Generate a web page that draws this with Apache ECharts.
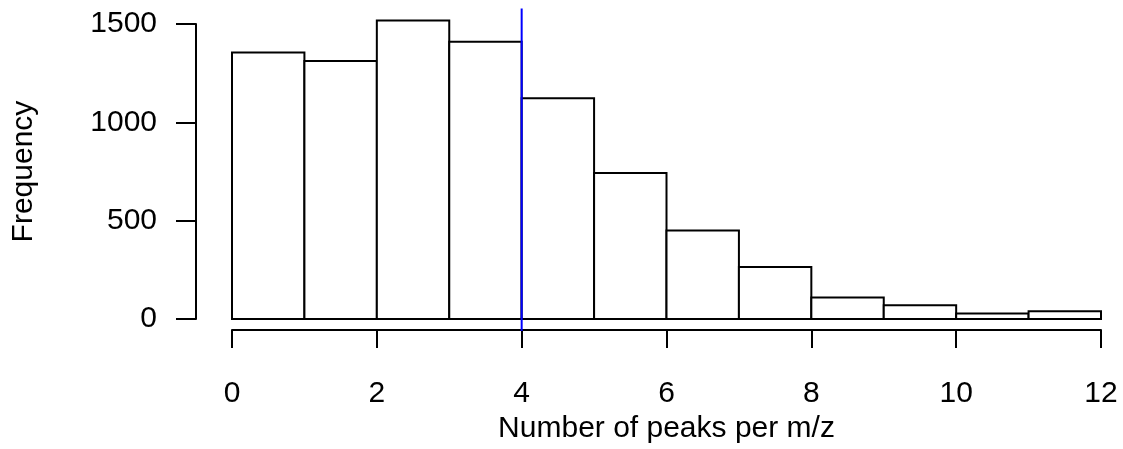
<!DOCTYPE html>
<html>
<head>
<meta charset="utf-8">
<script src="https://cdn.jsdelivr.net/npm/echarts@6/dist/echarts.min.js"></script>
<style>
html,body{margin:0;padding:0;background:#fff;}
#chart{width:1123px;height:449px;}
</style>
</head>
<body>
<div id="chart"></div>
<script>
// Histogram bin edges and counts
var binStarts = [0,1,2,3,4,5,6,7,8,9,10,11];
var binEnds   = [1,2,3,4,5,6,7,8,9,10,11,12];
var counts    = [1355,1312,1518,1410,1122,742,450,265,110,70,28,40];
// Reference line (abline v = 4)
var refLineX  = [4];
var xTicks    = [0,2,4,6,8,10,12];
var yTicks    = [0,500,1000,1500];

var FONT = '"Liberation Sans", Arial, Helvetica, sans-serif';
var chart = echarts.init(document.getElementById('chart'), null, {renderer:'canvas'});

var histData = binStarts.map(function(s,i){ return [s, binEnds[i], counts[i]]; });
var yMaxData = Math.max.apply(null, counts);
var yPad = yMaxData * 0.04;
var LW = 2;

var option = {
  backgroundColor: '#ffffff',
  animation: false,
  grid: {left: 232, right: 22, top: 24, bottom: 126, containLabel: false},
  xAxis: {
    type: 'value', min: xTicks[0], max: xTicks[xTicks.length-1], interval: 2,
    offset: 11,
    axisLine: {show: true, onZero: false, lineStyle: {color: '#000', width: LW}},
    axisTick: {show: true, length: 18, lineStyle: {color: '#000', width: LW}},
    axisLabel: {margin: 49, fontSize: 30, color: '#000', fontFamily: FONT, showMinLabel: true, showMaxLabel: true,
                formatter: function(v){ return String(v); }},
    splitLine: {show: false},
    name: 'Number of peaks per m/z', nameLocation: 'middle', nameGap: 66,
    nameTextStyle: {fontSize: 30, color: '#000', fontFamily: FONT}
  },
  yAxis: {
    type: 'value', min: yTicks[0], max: yTicks[yTicks.length-1], interval: 500,
    offset: 36,
    axisLine: {show: true, onZero: false, lineStyle: {color: '#000', width: LW}},
    axisTick: {show: true, length: 20, lineStyle: {color: '#000', width: LW}},
    axisLabel: {margin: 39, fontSize: 30, color: '#000', fontFamily: FONT, showMinLabel: true, showMaxLabel: true,
                formatter: function(v){ return String(v); }},
    splitLine: {show: false},
    name: 'Frequency', nameLocation: 'middle', nameGap: 157, nameRotate: 90,
    nameTextStyle: {fontSize: 30, color: '#000', fontFamily: FONT}
  },
  series: [
    {
      type: 'custom', clip: false,
      data: histData,
      encode: {x: [0,1], y: 2},
      renderItem: function(params, api){
        var p0 = api.coord([api.value(0), api.value(2)]);
        var p1 = api.coord([api.value(1), 0]);
        return {
          type: 'rect',
          shape: {x: p0[0], y: p0[1], width: p1[0]-p0[0], height: p1[1]-p0[1]},
          style: {fill: '#ffffff', stroke: '#000000', lineWidth: LW}
        };
      }
    },
    {
      type: 'custom', clip: false,
      data: refLineX.map(function(v){ return [v]; }),
      encode: {x: 0},
      z: 5,
      renderItem: function(params, api){
        var top = api.coord([api.value(0), yMaxData + yPad]);
        var bot = api.coord([api.value(0), -yPad]);
        return {
          type: 'line',
          shape: {x1: top[0], y1: top[1], x2: bot[0], y2: bot[1]},
          style: {stroke: '#0000ff', lineWidth: LW}
        };
      }
    }
  ]
};
chart.setOption(option);
</script>
</body>
</html>
